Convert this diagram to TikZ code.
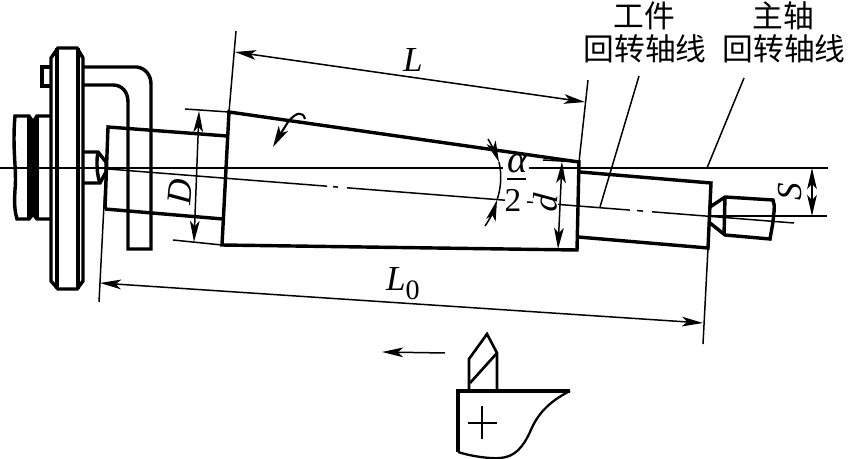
\documentclass[tikz,border=0pt]{standalone}
\usepackage{fontspec}
\setmainfont{Liberation Serif}
\newfontfamily\cjk{Noto Sans CJK SC}
\usetikzlibrary{arrows.meta}
\tikzset{
  thickline/.style={line width=1.95pt,line join=miter},
  thinline/.style={line width=.85pt},
  dimline/.style={thinline,{Stealth[length=12pt,width=5.5pt,inset=3pt]}-{Stealth[length=12pt,width=5.5pt,inset=3pt]}},
  oneway/.style={thinline,-{Stealth[length=12pt,width=5.5pt,inset=3pt]}},
  lbl/.style={inner sep=0pt,font=\fontsize{20}{20}\selectfont\itshape},
  cjklbl/.style={inner sep=0pt,font=\fontsize{17.5}{18}\selectfont\cjk}
}
\begin{document}
\begin{tikzpicture}[x=.02cm,y=-.02cm]
\useasboundingbox (0,0) rectangle (848,459);
% corners of the work
\coordinate (taperTL) at (229,112);
\coordinate (taperTR) at (579,162);
\coordinate (taperBR) at (577,250);
\coordinate (taperBL) at (222,245);
\coordinate (endL) at (108,127);
\coordinate (endR) at (711,183);
\coordinate (endRb) at (708,248);
% driving plate
\draw[thickline] (58,48)--(77,48)--(83,58)--(83,281)--(77,289)--(58,289)--(51,281)--(51,58)--cycle;
\draw[thickline] (57,48)--(57,289) (78,48)--(78,289);
\draw[thickline] (51,67)--(42,67)--(42,86)--(51,86);
% headstock spindle
\draw[thickline] (51,116)--(37,116)--(33,122)--(29,116)--(15,116)..controls (12,150) and (17,170) .. (15,190)..controls (14,205) and (15,212) .. (17,219)--(29,219)--(33,214)--(37,219)--(51,219);
\draw[thickline] (29,116)--(29,219) (33,122)--(33,214) (37,116)--(37,219);
% dog
\draw[thickline] (83,67)--(137,67)..controls (145,68) and (151,75) .. (151,84)--(151,249)--(128,249)--(128,102)..controls (128,92) and (122,85) .. (113,85)--(83,85);
% left centre
\draw[thickline] (83,152)--(98,152)--(106,162)--(106,172)--(100,183)--(83,183);
\draw[thickline] (98,152)..controls (96,162) and (97,175) .. (100,183);
% work
\draw[thickline] (105,209)--(endL)--(227,136);
\draw[thickline] (105,209)--(223,219);
\draw[thickline] (taperTL)--(taperTR)--(taperBR)--(taperBL)--cycle;
\draw[thickline] (580,172)--(endR)--(endRb)--(578,237);
% right centre
\draw[thickline] (710,207)--(725,197)--(773,200)..controls (776,207) and (773,215) .. (773,222)..controls (772,228) and (771,233) .. (770,239)--(725,235)--(710,223);
\draw[thickline] (725,197)--(724,235);
% axes
\draw[thinline] (0,168)--(503,168) (529,168)--(828,168);
\draw[thinline] (710,216)--(827,216);
\draw[thinline] (108,169)--(327,186.2) (333,186.7)--(338,187.1) (347,187.8)--(505,200.2) (527,202)--(533,202.4) (558,204.4)--(630,210.1) (637,210.6)--(643,211.1) (652,211.8)--(794,223);
% extension lines
\draw[thinline] (236,31)--(taperTL);
\draw[thinline] (588,80)--(taperTR);
\draw[thinline] (endL)--(99,302);
\draw[thinline] (endRb)--(703,344);
\draw[thinline] (185,109)--(taperTL);
\draw[thinline] (173,240)--(taperBL);
\draw[thinline] (543,160)--(taperTR);
% dimensions
\coordinate (Lleft) at (235,52);
\coordinate (Lright) at (585,102);
\coordinate (Lzleft) at (100,283);
\coordinate (Lzright) at (703,323);
\draw[dimline] (Lleft)--(Lright);
\draw[dimline] (Lzleft)--(Lzright);
\draw[dimline] (199,111)--(194,242);
\draw[dimline] (562,162)--(558,249);
\draw[dimline] (812,168)--(812,216);
\draw[oneway] (488,139)..controls (492,146) and (495,152) .. (499,162);
\draw[thinline] (499,162)..controls (502,175) and (501,188) .. (497,200);
\draw[oneway] (485,226)..controls (490,219) and (494,210) .. (497,200);
% rotation
\draw[line width=1.2pt,-{Stealth[length=12pt,width=6pt,inset=3pt]}] (305,119)..controls (303,111) and (296,112) .. (288,122)..controls (283,130) and (278,138) .. (273,147);
% leaders
\node[cjklbl] (wkname) at (644,16) {工件};
\node[cjklbl] (wkaxis) at (645,49) {回转轴线};
\node[cjklbl] (spname) at (783,16) {主轴};
\node[cjklbl] (spaxis) at (784,49) {回转轴线};
\coordinate (wkfoot) at (600,207);
\coordinate (spfoot) at (707,168);
\draw[thinline] (639,76)--(wkfoot);
\draw[thinline] (744,78)--(spfoot);
% labels
\node[lbl] (Llabel) at (413,60) {L};
\node[lbl] (Lzlabel) at (403,284) {L\raisebox{-.25em}{\upshape\fontsize{16}{16}\selectfont 0}};
\node[lbl,rotate=85] (Dlabel) at (180,192) {D};
\node[lbl,rotate=85] (dlabel) at (545,203) {d};
\node[lbl,rotate=90] (Slabel) at (790,192) {S};
\node[lbl,font=\fontsize{22}{22}\selectfont\itshape] (alabel) at (518,164) {α};
\node[lbl,font=\fontsize{19}{19}\selectfont] (twolabel) at (513,200) {2};
\draw[thinline] (507,179)--(526,179);
% tool
\draw[thickline] (458,452)--(458,391)--(570,391);
\draw[line width=1.3pt] (458,452)..controls (470,456) and (490,459) .. (500,458)..controls (515,457) and (523,447) .. (530,432)..controls (537,415) and (548,402) .. (570,391);
\draw[line width=1.5pt] (469,391)--(469,359)--(487,334)--(497,353)--(497,391);
\draw[line width=1.5pt] (470,383)--(497,353);
\draw[line width=1.5pt] (468,423)--(497,423) (482,406)--(482,439);
\coordinate (feedtail) at (445,353);
\coordinate (feedtip) at (382,352);
\draw[oneway] (feedtail)--(feedtip);
\end{tikzpicture}
\end{document}
